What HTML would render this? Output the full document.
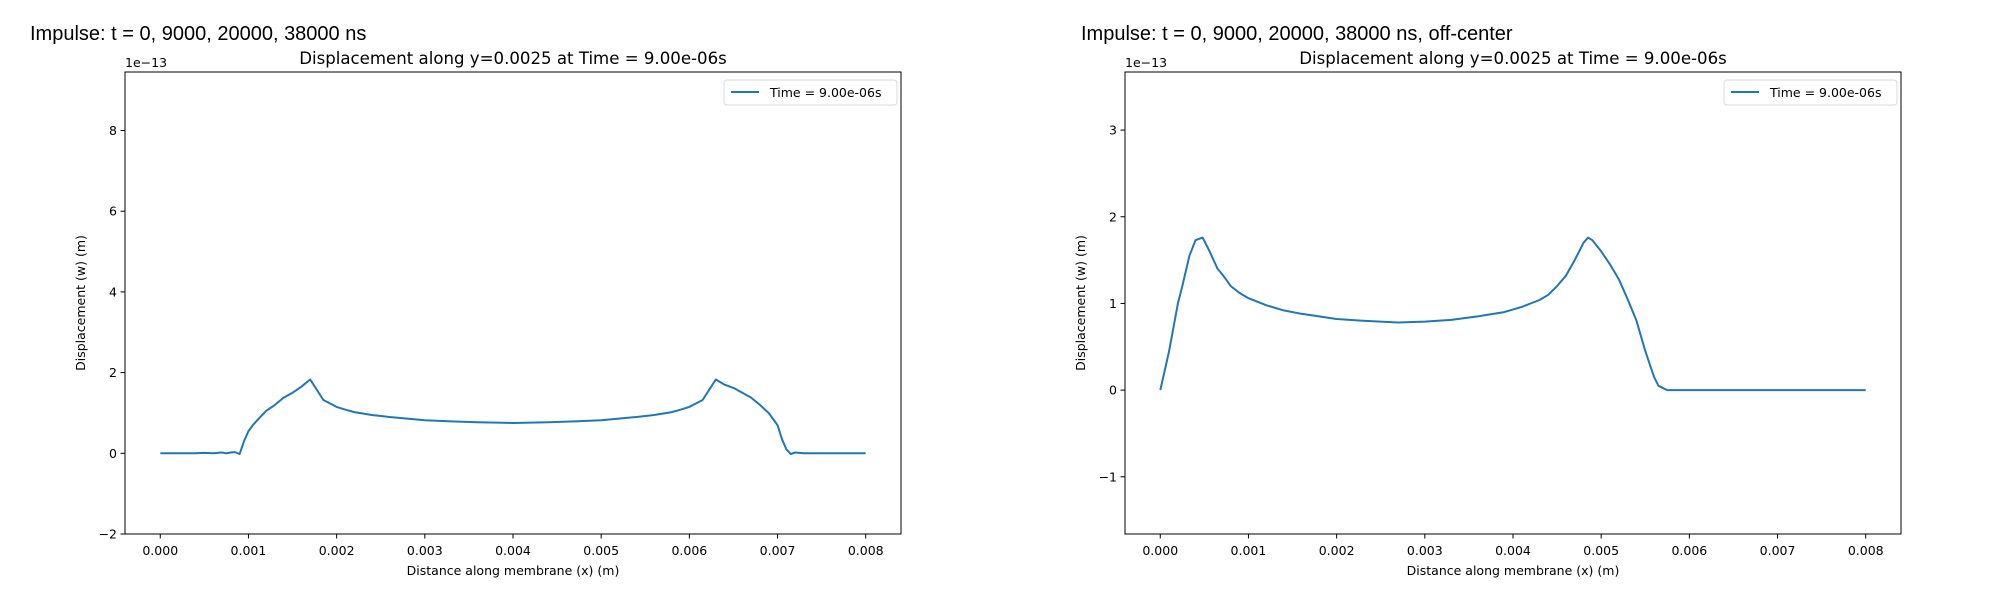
<!DOCTYPE html>
<html><head><meta charset="utf-8"><style>
body{margin:0;background:#fff;}
svg{display:block;font-family:"DejaVu Sans","Liberation Sans",sans-serif;}
</style></head><body>
<svg id="fig" width="2000" height="600" viewBox="0 0 2000 600"></svg>
<script>
const xTicks=[0,0.001,0.002,0.003,0.004,0.005,0.006,0.007,0.008];
const xTickLabels=["0.000","0.001","0.002","0.003","0.004","0.005","0.006","0.007","0.008"];
const leftYTicks=[-2,0,2,4,6,8];
const rightYTicks=[-1,0,1,2,3];
const leftX=[0,0.0002,0.0004,0.0005,0.0006,0.0007,0.00075,0.0008,0.00085,0.0009,0.00095,0.001,0.00105,0.0011,0.0012,0.0013,0.0014,0.0015,0.0016,0.0017,0.00185,0.002,0.0021,0.0022,0.0024,0.0026,0.0028,0.003,0.0033,0.0036,0.004,0.0044,0.0047,0.005,0.0052,0.0054,0.0056,0.0058,0.0059,0.006,0.00615,0.0063,0.0064,0.0065,0.0066,0.0067,0.0068,0.0069,0.007,0.00705,0.0071,0.00715,0.0072,0.0073,0.0075,0.0078,0.008];
const leftY=[0,0,0,0.01,0,0.02,0,0.02,0.03,-0.02,0.3,0.55,0.7,0.82,1.05,1.2,1.38,1.5,1.65,1.83,1.32,1.15,1.08,1.02,0.95,0.9,0.86,0.82,0.79,0.77,0.75,0.77,0.79,0.82,0.86,0.9,0.95,1.02,1.08,1.15,1.32,1.83,1.7,1.62,1.5,1.38,1.2,1.0,0.7,0.35,0.1,-0.02,0.02,0,0,0,0];
const rightX=[0,0.0001,0.0002,0.00025,0.00033,0.0004,0.00048,0.00055,0.00065,0.00073,0.0008,0.0009,0.001,0.0011,0.0012,0.0014,0.0016,0.0018,0.002,0.0023,0.0027,0.003,0.0033,0.0036,0.0039,0.0041,0.0043,0.0044,0.0045,0.0046,0.0047,0.0048,0.00485,0.0049,0.005,0.0051,0.0052,0.0053,0.0054,0.0055,0.0056,0.00565,0.00575,0.006,0.007,0.008];
const rightY=[0,0.45,1.0,1.2,1.55,1.73,1.76,1.62,1.4,1.3,1.2,1.12,1.06,1.02,0.98,0.92,0.88,0.85,0.82,0.8,0.78,0.79,0.81,0.85,0.9,0.96,1.04,1.1,1.2,1.32,1.5,1.7,1.76,1.73,1.6,1.45,1.28,1.05,0.8,0.45,0.15,0.05,0,0,0,0];

const NS="http://www.w3.org/2000/svg";
const svg=document.getElementById('fig');
function mk(tag,attrs,parent){const e=document.createElementNS(NS,tag);for(const k in attrs)e.setAttribute(k,attrs[k]);(parent||svg).appendChild(e);return e;}

function panel(ox,supX,sup,ymin,ymax,yTicks,xs,ys,id){
  const L=ox+125,R=ox+901,T=72,B=534;
  const xmin=-0.0004,xmax=0.0084;
  const sx=v=>L+(v-xmin)/(xmax-xmin)*(R-L);
  const sy=v=>B-(v-ymin)/(ymax-ymin)*(B-T);
  const g=mk('g',{});
  
  
  let t=mk('text',{x:supX,y:40,'font-size':20,'font-family':'"Liberation Sans",Arial,sans-serif'},g);t.textContent=sup;
  
  t=mk('text',{x:(L+R)/2,y:64,'font-size':16.6,'text-anchor':'middle'},g);t.textContent='Displacement along y=0.0025 at Time = 9.00e-06s';
  
  t=mk('text',{x:L,y:67,'font-size':12.5},g);t.textContent='1e\u221213';
  
  xTicks.forEach((v,i)=>{
    mk('line',{x1:sx(v),x2:sx(v),y1:B,y2:B+4.5,stroke:'#000','stroke-width':1},g);
    const tt=mk('text',{x:sx(v),y:B+21,'font-size':12.5,'text-anchor':'middle'},g);tt.textContent=xTickLabels[i];
    
  });
  yTicks.forEach(v=>{
    mk('line',{x1:L-4.5,x2:L,y1:sy(v),y2:sy(v),stroke:'#000','stroke-width':1},g);
    const tt=mk('text',{x:L-8,y:sy(v)+4.5,'font-size':12.5,'text-anchor':'end'},g);tt.textContent=(v<0?'\u2212'+(-v):''+v);
    
  });
  t=mk('text',{x:(L+R)/2,y:575,'font-size':12.5,'text-anchor':'middle'},g);t.textContent='Distance along membrane (x) (m)';
  
  t=mk('text',{x:0,y:0,'font-size':12.5,'text-anchor':'middle',transform:`translate(${ox+85},${(T+B)/2}) rotate(-90)`},g);t.textContent='Displacement (w) (m)';
  
  const pts=xs.map((v,i)=>sx(v).toFixed(1)+','+sy(ys[i]).toFixed(1)).join(' ');
  const pl=mk('polyline',{points:pts,fill:'none',stroke:'#1f77b4','stroke-width':2,'stroke-linejoin':'round'},g);
  
  const fr=mk('rect',{x:L,y:T,width:R-L,height:B-T,fill:'none',stroke:'#000','stroke-width':1},g);
  
  const lg=mk('g',{},g);
  
  mk('rect',{x:R-177,y:80,width:173,height:25,rx:3,fill:'#fff',stroke:'#d9d9d9','stroke-width':1},lg);
  mk('line',{x1:R-170,x2:R-142,y1:92,y2:92,stroke:'#1f77b4','stroke-width':2},lg);
  t=mk('text',{x:R-131,y:97,'font-size':12.5},lg);t.textContent='Time = 9.00e-06s';
}
panel(0,30,'Impulse: t = 0, 9000, 20000, 38000 ns',-2,9.45,leftYTicks,leftX,leftY,'left');
panel(1000,1081,'Impulse: t = 0, 9000, 20000, 38000 ns, off-center',-1.66,3.67,rightYTicks,rightX,rightY,'right');
</script>
</body></html>
